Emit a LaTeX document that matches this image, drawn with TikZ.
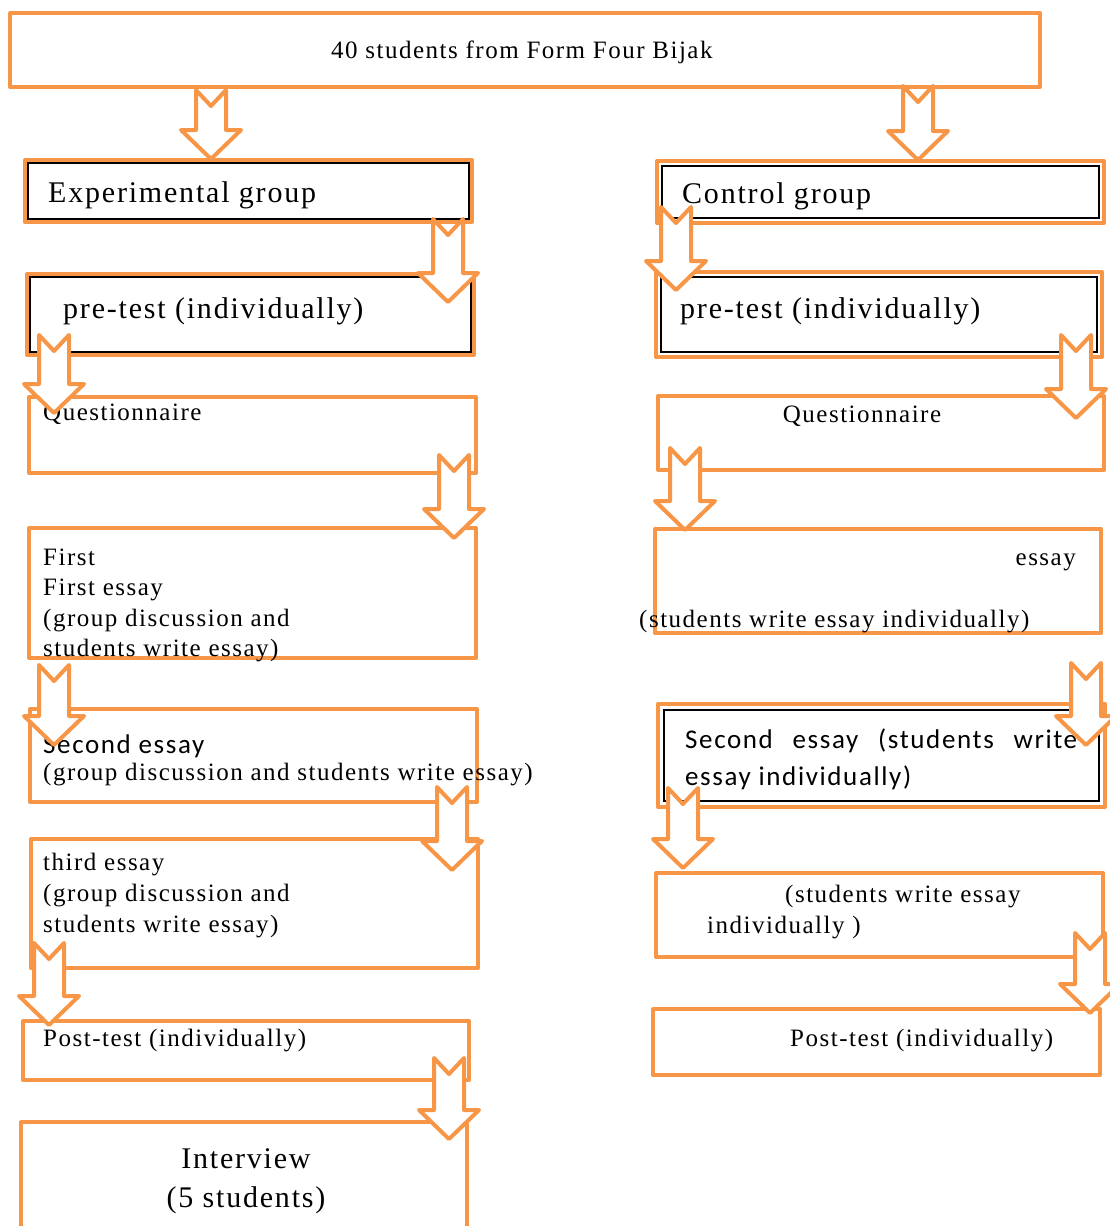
\documentclass[tikz,border=0pt]{standalone}
\usepackage{fontspec}
\setmainfont{Liberation Serif}[LetterSpace=6]
\newfontfamily\calibri{Carlito}[LetterSpace=6]
\definecolor{naranja}{HTML}{F79646}

% caja: nombre, x1, y1, x2, y2
\newcommand{\caja}[5]{\node[caja, minimum width=#4-#2, minimum height=#5-#3] (#1) at (#2,#3) {};}
% flecha de bloque: centro x, arriba, punta
\newcommand{\flecha}[3]{\draw[bloque] (#1-15,#2) -- (#1,#2+16) -- (#1+15,#2) -- (#1+15,#3-29)
  -- (#1+30,#3-29) -- (#1,#3) -- (#1-30,#3-29) -- (#1-15,#3-29) -- cycle;}

\tikzset{
  caja/.style={draw=naranja, line width=4pt, line join=round, inner sep=0, outer sep=0, anchor=north west},
  borde/.style={draw=black, line width=1.2pt},
  bloque/.style={draw=naranja, fill=white, line width=4pt, line join=round},
  texto/.style={inner sep=0, anchor=base west, font=\fontsize{25}{31}\selectfont},
  grande/.style={font=\fontsize{30}{38}\selectfont},
  sans/.style={font=\calibri\fontsize{27}{34}\selectfont},
}

\begin{document}
\begin{tikzpicture}[x=1pt, y=-1pt]
	\useasboundingbox (0,0) rectangle (1110,1226);
	\clip (0,0) rectangle (1110,1226);

	% cajas
	\caja{inicio}{10}{13}{1040}{87}
	\caja{exp}{25}{160}{472}{222}
	\caja{expPre}{27}{274}{474}{355}
	\caja{expCuest}{29}{397}{476}{473}
	\caja{expUno}{29}{528}{476}{658}
	\caja{expDos}{30}{709}{477}{802}
	\caja{expTres}{31}{839}{478}{968}
	\caja{expPost}{23}{1021}{469}{1080}
	\caja{entrevista}{21}{1122}{467}{1240}
	\caja{con}{657}{161}{1104}{223}
	\caja{conPre}{656}{272}{1102}{357}
	\caja{conCuest}{658}{396}{1104}{470}
	\caja{conUno}{655}{529}{1101}{633}
	\caja{conDos}{658}{704}{1105}{807}
	\caja{conTres}{656}{873}{1103}{957}
	\caja{conPost}{653}{1009}{1100}{1075}

	% borde negro interior
	\foreach \n/\d in {exp/3, expPre/3, con/5, conPre/5, conDos/6}
		\draw[borde] ([shift={(\d,\d)}]\n.north west) rectangle ([shift={(-\d,-\d)}]\n.south east);

	% textos
	\node[texto] (t-inicio) at (331,58) {40 students from Form Four Bijak};
	\node[texto, grande] (t-exp) at (48,202) {Experimental group};
	\node[texto, grande] (t-expPre) at (63,318) {pre-test (individually)};
	\node[texto] (t-expCuest) at (43,420) {Questionnaire};
	\foreach \linea [count=\i] in {First, First essay, {(group discussion and}, {students write essay)}}
		\node[texto] (t-expUno-\i) at (43,565+30.5*\i-30.5) {\linea};
	\node[texto, sans] (t-expDos-1) at (43,753) {Second essay};
	\node[texto] (t-expDos-2) at (43,780) {(group discussion and students write essay)};
	\foreach \linea [count=\i] in {third essay, {(group discussion and}, {students write essay)}}
		\node[texto] (t-expTres-\i) at (43,870+31*\i-31) {\linea};
	\node[texto] (t-expPost) at (43,1046) {Post-test (individually)};
	\node[texto, grande, anchor=base] (t-entrevista-1) at (246,1168) {Interview};
	\node[texto, grande, anchor=base] (t-entrevista-2) at (246,1207) {(5 students)};

	\node[texto, grande] (t-con) at (682,203) {Control group};
	\node[texto, grande] (t-conPre) at (680,318) {pre-test (individually)};
	\node[texto, anchor=base] (t-conCuest) at (862,422) {Questionnaire};
	\node[texto, anchor=base east] (t-conUno-1) at (1076,565) {essay};
	\node[texto] (t-conUno-2) at (639,627) {(students write essay individually)};
	\node[texto, sans] (t-conDos-1) at (685,748) {\makebox[392pt][s]{Second essay (students write}};
	\node[texto, sans] (t-conDos-2) at (685,785) {essay individually)};
	\node[texto] (t-conTres-1) at (785,902) {(students write essay};
	\node[texto] (t-conTres-2) at (707,933) {individually )};
	\node[texto] (t-conPost) at (790,1046) {Post-test (individually)};

	% flechas
	\flecha{211}{90}{159}
	\flecha{918}{86}{160}
	\flecha{448}{219}{302}
	\flecha{676}{207}{290}
	\flecha{54}{335}{413}
	\flecha{1076}{335}{418}
	\flecha{454}{455}{538}
	\flecha{685}{448}{530}
	\flecha{54}{665}{745}
	\flecha{1086}{663}{745}
	\flecha{452}{787}{870}
	\flecha{683}{788}{868}
	\flecha{49}{943}{1025}
	\flecha{1090}{933}{1013}
	\flecha{449}{1058}{1139}
\end{tikzpicture}
\end{document}
